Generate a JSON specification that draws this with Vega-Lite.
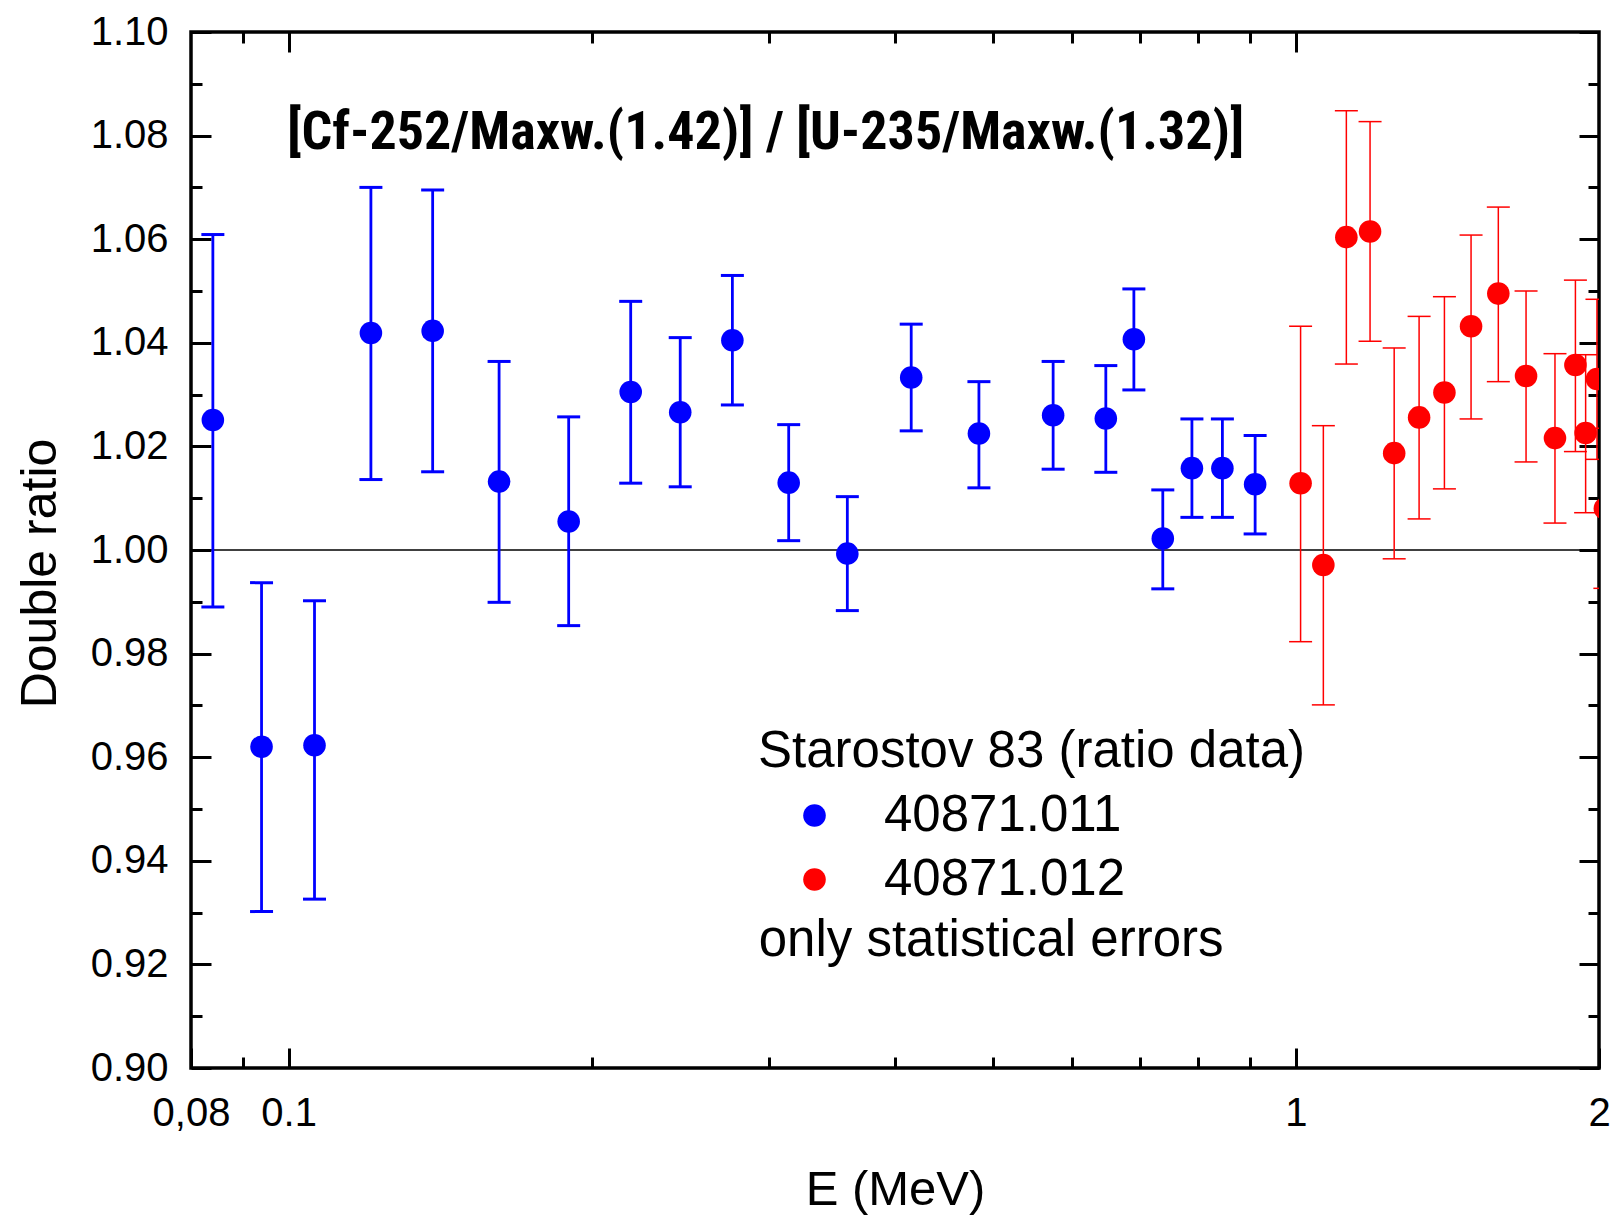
{
  "$schema": "https://vega.github.io/schema/vega-lite/v6.json",
  "width": 1408,
  "height": 1036,
  "autosize": {"type": "none"},
  "padding": {"left": 191, "top": 32, "right": 15, "bottom": 149},
  "background": "white",
  "config": {
    "font": "Liberation Sans",
    "view": {"stroke": "black", "strokeWidth": 3.5},
    "axis": {
      "domain": false,
      "grid": false,
      "tickColor": "black",
      "tickWidth": 3,
      "labelColor": "black",
      "titleColor": "black",
      "labelFont": "Liberation Sans",
      "titleFont": "Liberation Sans",
      "labelFontSize": 40,
      "titleFontSize": 49,
      "titleFontWeight": "normal",
      "labelFlush": false,
      "labelOverlap": false,
      "labelBound": false
    }
  },
  "data": {
    "values": [
      {"series": "40871.011", "E": 0.0841, "v": 1.0251, "lo": 0.9890, "hi": 1.0609},
      {"series": "40871.011", "E": 0.0940, "v": 0.9620, "lo": 0.9302, "hi": 0.9937},
      {"series": "40871.011", "E": 0.1061, "v": 0.9623, "lo": 0.9326, "hi": 0.9902},
      {"series": "40871.011", "E": 0.1207, "v": 1.0419, "lo": 1.0136, "hi": 1.0700},
      {"series": "40871.011", "E": 0.1390, "v": 1.0423, "lo": 1.0151, "hi": 1.0695},
      {"series": "40871.011", "E": 0.1618, "v": 1.0132, "lo": 0.9899, "hi": 1.0364},
      {"series": "40871.011", "E": 0.1897, "v": 1.0055, "lo": 0.9854, "hi": 1.0257},
      {"series": "40871.011", "E": 0.2186, "v": 1.0305, "lo": 1.0129, "hi": 1.0480},
      {"series": "40871.011", "E": 0.2448, "v": 1.0266, "lo": 1.0122, "hi": 1.0410},
      {"series": "40871.011", "E": 0.2758, "v": 1.0405, "lo": 1.0280, "hi": 1.0530},
      {"series": "40871.011", "E": 0.3137, "v": 1.0130, "lo": 1.0018, "hi": 1.0242},
      {"series": "40871.011", "E": 0.3587, "v": 0.9993, "lo": 0.9883, "hi": 1.0103},
      {"series": "40871.011", "E": 0.4151, "v": 1.0333, "lo": 1.0230, "hi": 1.0436},
      {"series": "40871.011", "E": 0.4846, "v": 1.0225, "lo": 1.0120, "hi": 1.0325},
      {"series": "40871.011", "E": 0.5742, "v": 1.0260, "lo": 1.0156, "hi": 1.0364},
      {"series": "40871.011", "E": 0.6477, "v": 1.0254, "lo": 1.0150, "hi": 1.0356},
      {"series": "40871.011", "E": 0.6906, "v": 1.0407, "lo": 1.0309, "hi": 1.0504},
      {"series": "40871.011", "E": 0.7378, "v": 1.0022, "lo": 0.9925, "hi": 1.0116},
      {"series": "40871.011", "E": 0.7886, "v": 1.0158, "lo": 1.0063, "hi": 1.0253},
      {"series": "40871.011", "E": 0.8455, "v": 1.0158, "lo": 1.0063, "hi": 1.0253},
      {"series": "40871.011", "E": 0.9112, "v": 1.0127, "lo": 1.0031, "hi": 1.0221},
      {"series": "40871.012", "E": 1.011, "v": 1.0129, "lo": 0.9823, "hi": 1.0432},
      {"series": "40871.012", "E": 1.065, "v": 0.9971, "lo": 0.9701, "hi": 1.0240},
      {"series": "40871.012", "E": 1.1225, "v": 1.0604, "lo": 1.0359, "hi": 1.0848},
      {"series": "40871.012", "E": 1.1850, "v": 1.0615, "lo": 1.0403, "hi": 1.0827},
      {"series": "40871.012", "E": 1.2522, "v": 1.0187, "lo": 0.9983, "hi": 1.0390},
      {"series": "40871.012", "E": 1.3256, "v": 1.0256, "lo": 1.0060, "hi": 1.0451},
      {"series": "40871.012", "E": 1.4046, "v": 1.0304, "lo": 1.0118, "hi": 1.0489},
      {"series": "40871.012", "E": 1.4928, "v": 1.0432, "lo": 1.0253, "hi": 1.0608},
      {"series": "40871.012", "E": 1.5888, "v": 1.0495, "lo": 1.0325, "hi": 1.0662},
      {"series": "40871.012", "E": 1.6928, "v": 1.0336, "lo": 1.0170, "hi": 1.0500},
      {"series": "40871.012", "E": 1.8085, "v": 1.0216, "lo": 1.0052, "hi": 1.0379},
      {"series": "40871.012", "E": 1.8950, "v": 1.0357, "lo": 1.0190, "hi": 1.0521},
      {"series": "40871.012", "E": 1.9398, "v": 1.0226, "lo": 1.0072, "hi": 1.0377},
      {"series": "40871.012", "E": 1.9907, "v": 1.0330, "lo": 1.0175, "hi": 1.0484},
      {"series": "40871.012", "E": 2.027, "v": 1.0080, "lo": 0.9926, "hi": 1.0235}
    ]
  },
  "resolve": {"axis": {"x": "independent", "y": "independent"}},
  "layer": [
    {
      "data": {"values": [{}]},
      "mark": {"type": "rule", "color": "black", "strokeWidth": 1.5},
      "encoding": {
        "y": {"datum": 1, "type": "quantitative", "axis": null}
      }
    },
    {
      "transform": [{"filter": "datum.series === '40871.011'"}],
      "mark": {"type": "rule", "color": "#0000ff", "strokeWidth": 2.8, "clip": true},
      "encoding": {
        "x": {
          "field": "E", "type": "quantitative",
          "scale": {"type": "log", "domain": [0.08, 2], "nice": false},
          "axis": {
            "orient": "bottom",
            "values": [0.08, 0.1, 1, 2],
            "tickSize": -20,
            "labelPadding": 45,
            "labelExpr": "datum.value < 0.09 ? '0,08' : format(datum.value, '~g')",
            "title": "E (MeV)",
            "titlePadding": 32
          }
        },
        "y": {
          "field": "lo", "type": "quantitative",
          "scale": {"domain": [0.9, 1.1], "nice": false, "zero": false},
          "axis": {
            "orient": "left",
            "values": [0.9, 0.92, 0.94, 0.96, 0.98, 1.0, 1.02, 1.04, 1.06, 1.08, 1.1],
            "tickSize": -20,
            "labelPadding": 43,
            "format": ".2f",
            "title": "Double ratio",
            "titleFontSize": 50,
            "titlePadding": 25,
            "titleY": 541
          }
        },
        "y2": {"field": "hi"}
      }
    },
    {
      "transform": [{"filter": "datum.series === '40871.012'"}],
      "mark": {"type": "rule", "color": "#ff0000", "strokeWidth": 1.5, "clip": true},
      "encoding": {
        "x": {
          "field": "E", "type": "quantitative",
          "axis": {
            "orient": "bottom",
            "values": [0.09, 0.2, 0.3, 0.4, 0.5, 0.6, 0.7, 0.8, 0.9],
            "tickSize": -11,
            "labels": false,
            "title": null
          }
        },
        "y": {
          "field": "lo", "type": "quantitative",
          "axis": {
            "orient": "left",
            "values": [0.91, 0.93, 0.95, 0.97, 0.99, 1.01, 1.03, 1.05, 1.07, 1.09],
            "tickSize": -11,
            "labels": false,
            "title": null
          }
        },
        "y2": {"field": "hi"}
      }
    },
    {
      "transform": [
        {"filter": "datum.series === '40871.011'"},
        {"fold": ["lo", "hi"], "as": ["end", "cap"]}
      ],
      "mark": {"type": "tick", "orient": "horizontal", "color": "#0000ff", "size": 23, "thickness": 3, "opacity": 1, "clip": true},
      "encoding": {
        "x": {
          "field": "E", "type": "quantitative",
          "axis": {
            "orient": "top",
            "values": [0.1, 1],
            "tickSize": -20,
            "labels": false,
            "title": null
          }
        },
        "y": {
          "field": "cap", "type": "quantitative",
          "axis": {
            "orient": "right",
            "values": [0.9, 0.92, 0.94, 0.96, 0.98, 1.0, 1.02, 1.04, 1.06, 1.08, 1.1],
            "tickSize": -20,
            "labels": false,
            "title": null
          }
        }
      }
    },
    {
      "transform": [
        {"filter": "datum.series === '40871.012'"},
        {"fold": ["lo", "hi"], "as": ["end", "cap"]}
      ],
      "mark": {"type": "tick", "orient": "horizontal", "color": "#ff0000", "size": 23, "thickness": 1.5, "opacity": 1, "clip": true},
      "encoding": {
        "x": {
          "field": "E", "type": "quantitative",
          "axis": {
            "orient": "top",
            "values": [0.09, 0.2, 0.3, 0.4, 0.5, 0.6, 0.7, 0.8, 0.9],
            "tickSize": -11,
            "labels": false,
            "title": null
          }
        },
        "y": {
          "field": "cap", "type": "quantitative",
          "axis": {
            "orient": "right",
            "values": [0.91, 0.93, 0.95, 0.97, 0.99, 1.01, 1.03, 1.05, 1.07, 1.09],
            "tickSize": -11,
            "labels": false,
            "title": null
          }
        }
      }
    },
    {
      "mark": {"type": "point", "filled": true, "size": 510, "opacity": 1, "clip": true},
      "encoding": {
        "x": {"field": "E", "type": "quantitative", "axis": null},
        "y": {"field": "v", "type": "quantitative", "axis": null},
        "color": {
          "field": "series", "type": "nominal",
          "scale": {"domain": ["40871.011", "40871.012"], "range": ["#0000ff", "#ff0000"]},
          "legend": {
            "orient": "none",
            "legendX": 567,
            "legendY": 695,
            "padding": 0,
            "title": "Starostov 83 (ratio data)",
            "titleFont": "Liberation Sans",
            "titleFontSize": 51,
            "titleFontWeight": "normal",
            "titleColor": "black",
            "titleLimit": 2000,
            "titlePadding": 12,
            "labelFont": "Liberation Sans",
            "labelFontSize": 51,
            "labelColor": "black",
            "labelLimit": 2000,
            "labelOffset": 44,
            "symbolOffset": 31,
            "symbolType": "circle",
            "symbolSize": 510,
            "symbolStrokeWidth": 0,
            "rowPadding": 12
          }
        }
      }
    },
    {
      "data": {"values": [{"label": "[Cf-252/Maxw.(1.42)] / [U-235/Maxw.(1.32)]"}]},
      "mark": {"type": "text", "align": "left", "baseline": "alphabetic", "font": "Roboto Condensed", "fontWeight": "bold", "fontSize": 54, "color": "black"},
      "encoding": {
        "x": {"datum": 0.0997, "type": "quantitative", "axis": null},
        "y": {"datum": 1.0774, "type": "quantitative", "axis": null},
        "text": {"field": "label"}
      }
    },
    {
      "data": {"values": [{"label": "only statistical errors"}]},
      "mark": {"type": "text", "align": "left", "baseline": "alphabetic", "font": "Liberation Sans", "fontSize": 51, "color": "black"},
      "encoding": {
        "x": {"datum": 0.2929, "type": "quantitative", "axis": null},
        "y": {"datum": 0.9217, "type": "quantitative", "axis": null},
        "text": {"field": "label"}
      }
    }
  ]
}
